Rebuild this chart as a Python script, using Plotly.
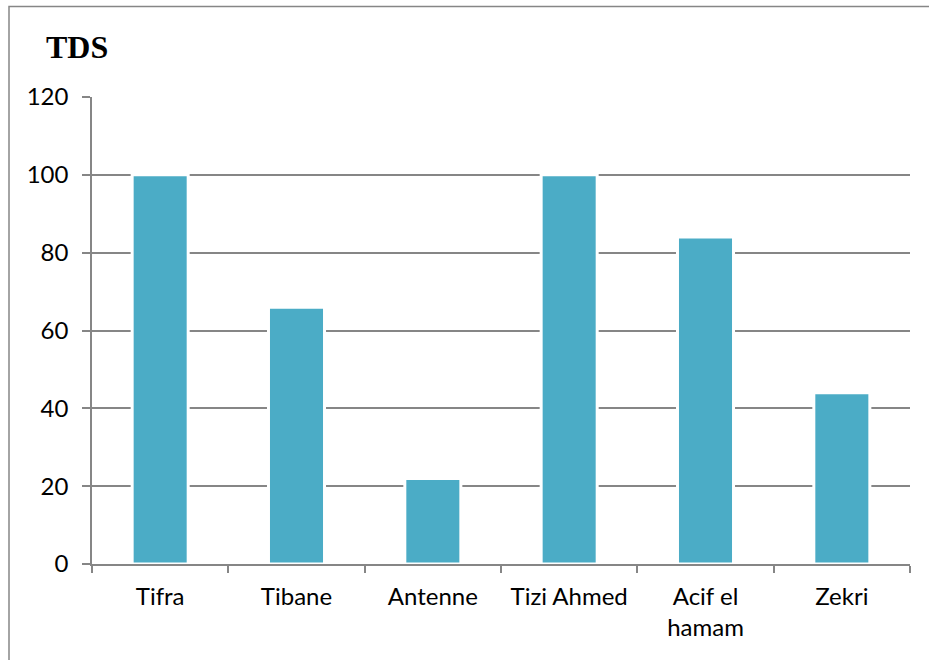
import plotly.graph_objects as go

# TDS measurements per sampling site
sites = ["Tifra", "Tibane", "Antenne", "Tizi Ahmed", "Acif el<br>hamam", "Zekri"]
tds_values = [100, 66, 22, 100, 84, 44]
y_ticks = [0, 20, 40, 60, 80, 100, 120]

W, H = 929, 660
L, R, T, B = 92, 19, 97, 96
plot_w = W - L - R
plot_h = H - T - B

def px_x(px):
    return (px - L) / plot_w

def px_y(py):
    return (H - B - py) / plot_h

axis_grey = "#868686"
tick_font = dict(family="Lato, Open Sans, sans-serif", size=24, color="#000000")

fig = go.Figure(
    go.Bar(
        x=sites,
        y=tds_values,
        marker=dict(color="#4BACC6", line=dict(color="#FFFFFF", width=3)),
        hoverinfo="x+y",
    )
)

fig.update_layout(
    width=W,
    height=H,
    margin=dict(l=L, r=R, t=T, b=B, pad=0),
    paper_bgcolor="#FFFFFF",
    plot_bgcolor="#FFFFFF",
    bargap=0.589,
    showlegend=False,
    font=tick_font,
)

fig.update_yaxes(
    range=[0, 120],
    tickvals=y_ticks,
    ticks="outside",
    ticklen=8,
    tickwidth=1.5,
    tickcolor=axis_grey,
    showgrid=True,
    gridcolor=axis_grey,
    gridwidth=1.5,
    showline=True,
    linecolor=axis_grey,
    linewidth=1.5,
    zeroline=False,
    tickfont=tick_font,
    ticklabelstandoff=9,
    fixedrange=True,
)

fig.update_xaxes(
    type="category",
    ticks="outside",
    tickson="boundaries",
    ticklen=7,
    tickwidth=1.5,
    tickcolor=axis_grey,
    showline=True,
    linecolor=axis_grey,
    linewidth=1.5,
    showgrid=False,
    tickfont=tick_font,
    ticklabelstandoff=10,
    fixedrange=True,
)

# chart frame (left and top edges visible within the page)
fig.add_shape(
    type="rect",
    xref="paper", yref="paper",
    x0=px_x(9), x1=px_x(940),
    y0=px_y(680), y1=px_y(6.5),
    line=dict(color=axis_grey, width=1.5),
    fillcolor="rgba(0,0,0,0)",
    layer="below",
)

fig.add_annotation(
    text="<b>TDS</b>",
    xref="paper", yref="paper",
    x=px_x(44), y=px_y(47),
    xanchor="left", yanchor="middle",
    showarrow=False,
    font=dict(family="Liberation Serif, Times New Roman, serif", size=32, color="#000000"),
)

fig.write_html("out.html")
